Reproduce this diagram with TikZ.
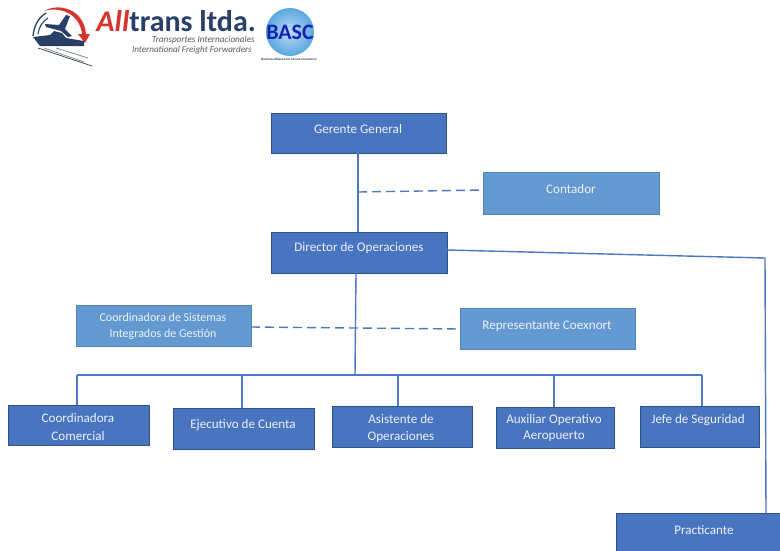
\documentclass[tikz,border=0pt]{standalone}
\usepackage{fontspec}
\setmainfont{Carlito}
\definecolor{boxdark}{HTML}{4874C0}
\definecolor{edgedark}{HTML}{2F528F}
\definecolor{boxlight}{HTML}{6399D0}
\definecolor{edgelight}{HTML}{5585B5}
\definecolor{linkblue}{HTML}{4E79C2}
\definecolor{navy}{HTML}{2A3F68}
\definecolor{logored}{HTML}{D5352E}
\definecolor{globe}{HTML}{5AA7E0}
\tikzset{
  x=1pt,y=-1pt,
  dbox/.style={draw=edgedark,fill=boxdark,line width=1pt,anchor=north west,inner sep=0pt},
  lbox/.style={draw=edgelight,fill=boxlight,line width=1pt,anchor=north west,inner sep=0pt},
  lbl/.style={text=white!90!boxdark,font=\fontsize{13.1}{16}\selectfont,align=center,inner sep=0pt},
  lbls/.style={lbl,font=\fontsize{12}{16}\selectfont},
  link/.style={draw=linkblue,line width=1.4pt},
  dlink/.style={link,dash pattern=on 9pt off 5pt},
}
\newcommand{\bx}[6]{% name style x1 y1 x2 y2
  \pgfmathsetmacro{\bw}{#5-#3}\pgfmathsetmacro{\bh}{#6-#4}
  \node[#2,minimum width=\bw pt,minimum height=\bh pt] (#1) at (#3,#4) {};}
\begin{document}
\begin{tikzpicture}
\useasboundingbox (0,0) rectangle (780,550);
\fill[white] (0,0) rectangle (780,550);
% logo
\fill[logored] (44,11) .. controls (60,2) and (84,10) .. (86,34) -- (90,34) -- (85,43) -- (78,34) -- (82,34) .. controls (80,14) and (60,6) .. (44,11) -- cycle;
\draw[navy,line width=1.3pt] (33,36) .. controls (34,26) and (38,18) .. (46,13);
\draw[navy,line width=1.1pt] (38,34) .. controls (39,27) and (42,22) .. (48,18);
\fill[navy] (66,15) -- (70,16) -- (65,29) -- (72,36) -- (68,37) -- (61,31) -- (46,27) -- (45,24) -- (59,25) -- cycle;
\fill[navy] (33,37) -- (50,35) -- (54,31) -- (62,33) -- (66,38) -- (84,41) -- (84,46) -- (66,46) -- (40,46) -- cycle;
\draw[navy,line width=.7pt] (38,48) -- (92,66);
\draw[gray,line width=.7pt] (44,48) -- (84,62);
\draw[gray,line width=.7pt] (56,48) -- (88,58);
\node[anchor=base east,inner sep=0pt,font=\fontsize{30}{30}\selectfont\bfseries] (logoname) at (256,31.5) {\textcolor{logored}{\itshape All}\textcolor{navy}{trans ltda.}};
\node[anchor=east,inner sep=0pt,font=\fontsize{9.2}{10}\selectfont\itshape,text=black!65] (logoa) at (255,40) {Transportes Internacionales};
\node[anchor=east,inner sep=0pt,font=\fontsize{9.1}{10}\selectfont\itshape,text=black!65] (logob) at (252,50) {International Freight Forwarders};
\shade[inner color=white!60!globe,outer color=globe] (290,32) circle (24);
\node[inner sep=0pt,font=\fontsize{22}{22}\selectfont\bfseries,text=blue!50!navy] (logobasc) at (290,32) {BASC};
\node[inner sep=0pt,font=\fontsize{3.4}{4}\selectfont\bfseries,text=navy] (logosub) at (289,59) {Business Alliance for Secure Commerce};
% boxes
\bx{gg}{dbox}{271}{113}{446}{153}
\bx{cont}{lbox}{483}{172}{659}{214}
\bx{dir}{dbox}{271}{232}{447}{273}
\bx{sis}{lbox}{76}{305}{251}{346}
\bx{rep}{lbox}{460}{308}{635}{349}
\bx{com}{dbox}{8}{405}{149}{445}
\bx{eje}{dbox}{173}{408}{314}{449}
\bx{asi}{dbox}{332}{406}{472}{447}
\bx{aux}{dbox}{496}{407}{614}{448}
\bx{jefe}{dbox}{640}{406}{759}{447}
\bx{prac}{dbox}{616}{513}{790}{560}
% connector coordinates
\coordinate (j1) at (358,192);
\coordinate (bus) at (355,375);
\coordinate (busl) at (77,375);
\coordinate (busr) at (702,375);
\coordinate (b2) at (242,375);
\coordinate (b3) at (398,375);
\coordinate (b4) at (554,375);
\coordinate (bend) at (765,258);
\draw[link] (358,153) -- (358,232);
\draw[dlink] (j1) -- (cont.west |- 0,190);
\draw[link] (356,273) -- (bus);
\draw[link] (busl) -- (busr);
\draw[link] (busl) -- (77,405);
\draw[link] (b2) -- (242,408);
\draw[link] (b3) -- (398,406);
\draw[link] (b4) -- (554,407);
\draw[link] (busr) -- (702,406);
\draw[link] (447,250) -- (bend) -- (766,513);
\draw[dlink] (251,327) -- (460,329);
% labels
\node[lbl] (tgg) at (358,129) {Gerente General};
\node[lbl] (tcont) at (571,188.5) {Contador};
\node[lbl] (tdir) at (359,248.5) {Director de Operaciones};
\node[lbls] (tsis) at (163,326) {Coordinadora de Sistemas\\Integrados de Gestión};
\node[lbl] (trep) at (547,326) {Representante Coexnort};
\node[lbl,font=\fontsize{13.1}{18}\selectfont] (tcom) at (78,427) {Coordinadora\\Comercial};
\node[lbl] (teje) at (243,425.5) {Ejecutivo de Cuenta};
\node[lbl,font=\fontsize{13.1}{17}\selectfont] (tasi) at (401,428.5) {Asistente de\\Operaciones};
\node[lbl] (taux) at (554,428) {Auxiliar Operativo\\Aeropuerto};
\node[lbl] (tjefe) at (698,420.5) {Jefe de Seguridad};
\node[lbl] (tprac) at (704,530.5) {Practicante};
\end{tikzpicture}
\end{document}
